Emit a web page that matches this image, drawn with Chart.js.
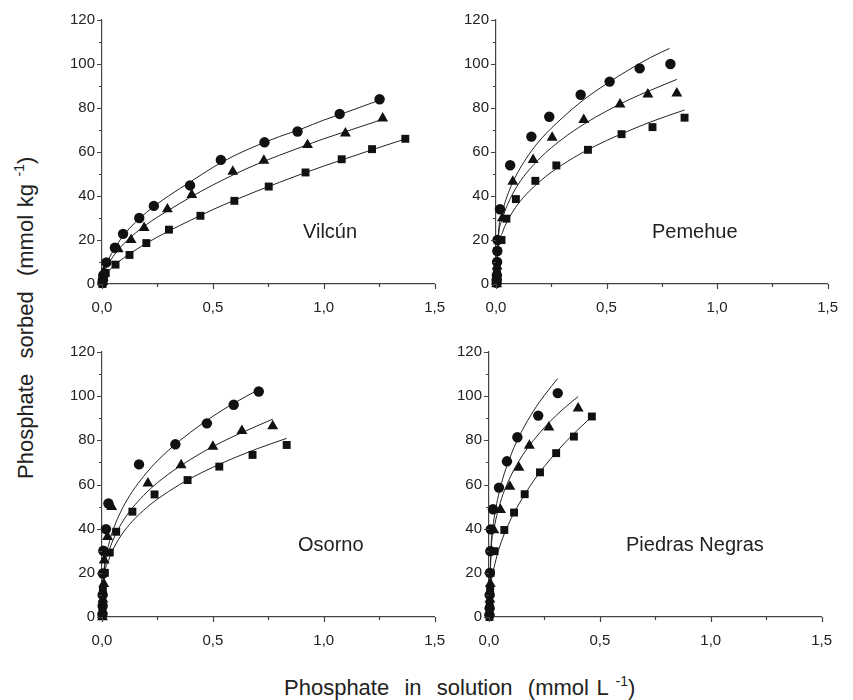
<!DOCTYPE html>
<html>
<head>
<meta charset="utf-8">
<script src="https://cdn.jsdelivr.net/npm/chart.js@4.4.1/dist/chart.umd.min.js"></script>
<style>
  body { margin: 0; background: #fff; }
  #wrap { position: relative; width: 853px; height: 700px; font-family: "Liberation Sans", Arial, sans-serif; color: #222; }
  canvas { position: absolute; }
  .lbl { position: absolute; font-size: 20px; line-height: 20px; white-space: pre; }
  .ttl { position: absolute; font-size: 22px; line-height: 22px; white-space: pre; word-spacing: 1.5px; }
  .ttl sup { font-size: 14px; vertical-align: 9px; line-height: 0; }
</style>
</head>
<body>
<div id="wrap">
  <canvas id="c1" width="420" height="330" style="left:40px;top:0px"></canvas>
  <canvas id="c2" width="413" height="330" style="left:440px;top:0px"></canvas>
  <canvas id="c3" width="420" height="333" style="left:40px;top:330px"></canvas>
  <canvas id="c4" width="414" height="333" style="left:433px;top:330px"></canvas>
  <div class="lbl" style="left:303px;top:221px">Vilcún</div>
  <div class="lbl" style="left:652px;top:221px">Pemehue</div>
  <div class="lbl" style="left:298px;top:534px">Osorno</div>
  <div class="lbl" style="left:626px;top:534px">Piedras Negras</div>
  <div class="ttl" style="left:284px;top:677px">Phosphate  in  solution  (mmol L <sup>-1</sup>)</div>
  <div class="ttl" style="left:15px;top:479px;transform-origin:0 0;transform:rotate(-90deg)">Phosphate  sorbed  (mmol kg <sup>-1</sup>)</div>
</div>
<script>
// measured points [x, y] - x in mmol/L, y in mmol/kg
const vilcunCircle = [[0.002,0.5],[0.004,2],[0.006,4],[0.02,9.8],[0.058,16.5],[0.095,22.8],[0.168,30],[0.234,35.5],[0.397,44.8],[0.536,56.4],[0.733,64.4],[0.882,69.3],[1.072,77.3],[1.252,84]];
const vilcunTriangle = [[0.002,1],[0.005,3],[0.008,5.5],[0.073,15.9],[0.131,20.1],[0.19,25.5],[0.295,34],[0.405,40.5],[0.59,51.1],[0.73,56.1],[0.927,63.2],[1.098,68.5],[1.266,75.3]];
const vilcunSquare = [[0.002,0],[0.004,1.5],[0.008,3],[0.017,5],[0.061,8.8],[0.124,13.2],[0.2,18.6],[0.302,24.7],[0.444,31],[0.597,37.8],[0.752,44.3],[0.918,50.7],[1.081,56.7],[1.218,61.3],[1.368,66]];

const pemehueCircle = [[0.003,0.5],[0.003,2],[0.004,4],[0.005,10],[0.006,15],[0.007,20],[0.018,34],[0.064,54],[0.16,67],[0.241,76],[0.383,86],[0.514,92],[0.65,98],[0.789,100]];
const pemehueTriangle = [[0.003,0],[0.004,3],[0.005,8],[0.029,30],[0.076,46.6],[0.168,56.4],[0.254,66.6],[0.397,74.6],[0.561,81.7],[0.687,86.2],[0.818,86.7]];
const pemehueSquare = [[0.002,2],[0.004,6],[0.006,15],[0.025,20],[0.047,29.7],[0.09,38.6],[0.178,46.9],[0.273,53.9],[0.416,61],[0.568,68.1],[0.708,71.3],[0.853,75.6]];

const osornoCircle = [[0.002,1],[0.003,5],[0.003,10],[0.004,19.7],[0.006,30],[0.018,39.8],[0.029,51.4],[0.167,69.1],[0.331,78.2],[0.473,87.7],[0.594,96.1],[0.707,102.1]];
const osornoTriangle = [[0.002,0],[0.003,3],[0.004,8],[0.008,15],[0.01,25.7],[0.025,36.3],[0.044,49.9],[0.207,60.5],[0.357,68.8],[0.5,77.2],[0.631,84.3],[0.77,86.5]];
const osornoSquare = [[0.002,2],[0.003,6],[0.004,12],[0.013,20],[0.035,29.2],[0.064,38.6],[0.137,47.7],[0.237,55.5],[0.386,62],[0.529,68.1],[0.679,73.4],[0.833,77.9]];

const piedrasCircle = [[0.002,1],[0.003,4],[0.003,10],[0.004,20],[0.006,29.8],[0.008,39.7],[0.018,48.8],[0.045,58.6],[0.081,70.5],[0.128,81.4],[0.222,91.2],[0.31,101.4]];
const piedrasTriangle = [[0.002,2],[0.004,8],[0.006,15],[0.011,29.8],[0.022,39.4],[0.052,48.5],[0.094,59.1],[0.135,67.7],[0.182,77.6],[0.27,85.9],[0.402,94.5]];
const piedrasSquare = [[0.002,0],[0.003,5],[0.005,12],[0.007,20],[0.025,29.8],[0.069,39.4],[0.113,47.3],[0.161,55.6],[0.23,65.5],[0.303,74.2],[0.383,81.7],[0.464,90.8]];

// fitted curves
const vilcunCircleFit = [[0,0],[0.01,6],[0.02,9],[0.05,15],[0.1,22.5],[0.2,32.5],[0.3,40],[0.4,46.5],[0.5,53],[0.6,58.5],[0.7,63],[0.8,67],[0.9,70.5],[1.0,74.5],[1.1,78],[1.25,83.5]];
const vilcunTriangleFit = [[0,0],[0.01,5],[0.02,7.5],[0.05,12.5],[0.1,18.5],[0.2,27],[0.3,33.5],[0.4,39.5],[0.5,45],[0.6,50],[0.7,54.5],[0.8,58.5],[0.9,62.3],[1.0,66],[1.1,69.3],[1.27,75]];
const vilcunSquareFit = [[0,0],[0.01,3],[0.02,4.8],[0.05,8],[0.1,12],[0.2,18.5],[0.3,24],[0.4,29],[0.5,33.8],[0.6,38.2],[0.7,42.3],[0.8,46.2],[0.9,50],[1.0,53.6],[1.1,57],[1.2,60.4],[1.37,66]];

const pemehueCircleFit = [[0,0],[0.01,22],[0.03,33],[0.06,42.5],[0.1,51],[0.15,59],[0.2,65.5],[0.3,75.5],[0.4,84],[0.5,91],[0.6,97.3],[0.7,103],[0.785,107.1]];
const pemehueTriangleFit = [[0,0],[0.01,20.4],[0.03,29.8],[0.05,35.6],[0.1,45.2],[0.2,57.3],[0.3,65.9],[0.4,72.8],[0.5,78.6],[0.6,83.7],[0.7,88.1],[0.818,93]];
const pemehueSquareFit = [[0,0],[0.01,15.9],[0.03,23.6],[0.05,28.3],[0.1,36.4],[0.2,46.8],[0.3,54.2],[0.4,60.2],[0.5,65.2],[0.6,69.6],[0.7,73.7],[0.853,79.1]];

const osornoCircleFit = [[0,0],[0.01,22],[0.03,32.7],[0.05,39.4],[0.1,50.7],[0.2,65.2],[0.3,75.5],[0.4,83.7],[0.5,90.9],[0.6,97.1],[0.707,103]];
const osornoTriangleFit = [[0,0],[0.01,20],[0.03,29.2],[0.05,34.9],[0.1,44.3],[0.2,56.3],[0.3,64.7],[0.4,71.4],[0.5,77.2],[0.6,82.1],[0.77,89.6]];
const osornoSquareFit = [[0,0],[0.01,17.5],[0.03,25.6],[0.05,30.6],[0.1,38.9],[0.2,49.4],[0.3,56.8],[0.4,62.8],[0.5,67.8],[0.6,72.2],[0.7,76.2],[0.833,80.9]];

const piedrasCircleFit = [[0,0],[0.01,33.6],[0.02,42.7],[0.05,58.1],[0.1,73.6],[0.15,84.5],[0.2,93.2],[0.25,100.4],[0.31,108]];
const piedrasTriangleFit = [[0,0],[0.01,30.9],[0.02,38.5],[0.05,51.5],[0.1,64.2],[0.15,73],[0.2,79.9],[0.25,85.8],[0.3,91],[0.35,95.5],[0.402,99.8]];
const piedrasSquareFit = [[0,0],[0.01,15.4],[0.02,21.1],[0.05,32.4],[0.1,44.6],[0.15,53.7],[0.2,61.5],[0.25,68.2],[0.3,74.2],[0.35,79.7],[0.4,84.7],[0.464,90.8]];

const xTicks = [0, 0.5, 1.0, 1.5];
const yTicks = [0, 20, 40, 60, 80, 100, 120];

Chart.defaults.font.family = '"Liberation Sans", Arial, sans-serif';
Chart.defaults.color = '#222';

// canvas id, y axis width, top pad, right pad, x axis height
const panels = [
  {id: 'c1', yw: 62, pt: 20, pr: 15, xh: 46, pts: [vilcunCircle, vilcunTriangle, vilcunSquare], fits: [vilcunCircleFit, vilcunTriangleFit, vilcunSquareFit]},
  {id: 'c2', yw: 56, pt: 20, pr: 15, xh: 46, pts: [pemehueCircle, pemehueTriangle, pemehueSquare], fits: [pemehueCircleFit, pemehueTriangleFit, pemehueSquareFit]},
  {id: 'c3', yw: 62, pt: 22, pr: 15, xh: 46, pts: [osornoCircle, osornoTriangle, osornoSquare], fits: [osornoCircleFit, osornoTriangleFit, osornoSquareFit]},
  {id: 'c4', yw: 56, pt: 22, pr: 15, xh: 46, pts: [piedrasCircle, piedrasTriangle, piedrasSquare], fits: [piedrasCircleFit, piedrasTriangleFit, piedrasSquareFit]}
];

const shapes = [['circle', 5.2], ['triangle', 6.3], ['rect', 5.6]];
const toXY = arr => arr.map(p => ({x: p[0], y: p[1]}));

// minor + major tick marks drawn outside the axes
const tickMarks = {
  id: 'tickMarks',
  afterDraw(chart) {
    const {ctx, chartArea, scales} = chart;
    ctx.save();
    ctx.strokeStyle = '#444';
    ctx.lineWidth = 1.2;
    ctx.beginPath();
    for (let v = 0; v <= 120; v += 10) {
      const py = Math.round(scales.y.getPixelForValue(v)) + 0.5;
      const len = v % 20 === 0 ? 5 : 3;
      ctx.moveTo(chartArea.left - len, py);
      ctx.lineTo(chartArea.left, py);
    }
    for (let v = 0; v <= 1.5001; v += 0.25) {
      const px = Math.round(scales.x.getPixelForValue(v)) + 0.5;
      const len = Math.abs(v * 2 - Math.round(v * 2)) < 1e-6 ? 5 : 3;
      ctx.moveTo(px, chartArea.bottom);
      ctx.lineTo(px, chartArea.bottom + len);
    }
    ctx.stroke();
    ctx.restore();
  }
};

panels.forEach(p => {
  const ds = [];
  p.pts.forEach((arr, i) => {
    ds.push({
      data: toXY(arr), pointStyle: shapes[i][0], pointRadius: shapes[i][1],
      backgroundColor: '#111', borderColor: '#111', borderWidth: 0,
      showLine: false, clip: false
    });
  });
  p.fits.forEach(arr => {
    ds.push({
      data: toXY(arr), showLine: true, pointRadius: 0, borderColor: '#222',
      borderWidth: 1, cubicInterpolationMode: 'monotone', fill: false, clip: false
    });
  });
  new Chart(document.getElementById(p.id), {
    type: 'scatter',
    data: {datasets: ds},
    plugins: [tickMarks],
    options: {
      responsive: false, animation: false,
      layout: {padding: {left: 0, top: p.pt, right: p.pr, bottom: 0}},
      plugins: {legend: {display: false}, tooltip: {enabled: false}},
      scales: {
        x: {
          type: 'linear', min: 0, max: 1.5,
          afterFit: s => { s.height = p.xh; },
          afterBuildTicks: s => { s.ticks = xTicks.map(v => ({value: v})); },
          grid: {display: false, drawTicks: false},
          border: {display: true, color: '#444', width: 1.2},
          ticks: {padding: 15, font: {size: 15}, color: '#222', maxRotation: 0,
            callback: v => v.toFixed(1).replace('.', ',')}
        },
        y: {
          type: 'linear', min: 0, max: 120,
          afterFit: s => { s.width = p.yw; },
          afterBuildTicks: s => { s.ticks = yTicks.map(v => ({value: v})); },
          grid: {display: false, drawTicks: false},
          border: {display: true, color: '#444', width: 1.2},
          ticks: {padding: 7, font: {size: 15}, color: '#222'}
        }
      }
    }
  });
});
</script>
</body>
</html>
